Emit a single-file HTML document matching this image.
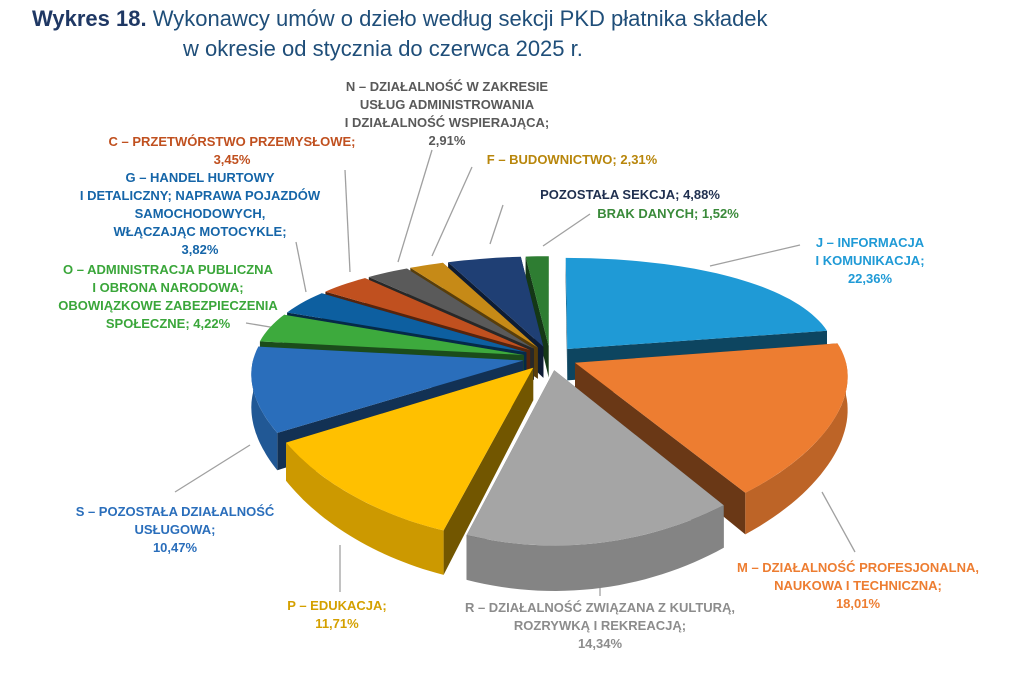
<!DOCTYPE html>
<html><head><meta charset="utf-8">
<style>
body{margin:0;width:1024px;height:678px;background:#fff;overflow:hidden;font-family:"Liberation Sans",sans-serif;}
#wrap{position:relative;width:1024px;height:678px;}
.t{position:absolute;font-size:22px;color:#1f4e79;white-space:nowrap;}
.l{position:absolute;font-size:13px;font-weight:bold;line-height:18px;text-align:center;white-space:nowrap;transform:translateX(-50%);}
svg{position:absolute;left:0;top:0;}
</style></head><body><div id="wrap">
<svg id="s" width="1024" height="678"></svg>
<div class="t" style="left:32px;top:6px;"><b style="color:#1f3864">Wykres 18.</b> Wykonawcy umów o dzieło według sekcji PKD płatnika składek</div>
<div class="t" style="left:183px;top:36px;">w okresie od stycznia do czerwca 2025 r.</div>

<div class="l" style="left:447px;top:78px;color:#595959">N – DZIAŁALNOŚĆ W ZAKRESIE<br>USŁUG ADMINISTROWANIA<br>I DZIAŁALNOŚĆ WSPIERAJĄCA;<br>2,91%</div>
<div class="l" style="left:232px;top:133px;color:#c0501f">C – PRZETWÓRSTWO PRZEMYSŁOWE;<br>3,45%</div>
<div class="l" style="left:572px;top:151px;color:#b8860b">F – BUDOWNICTWO; 2,31%</div>
<div class="l" style="left:200px;top:169px;color:#1565a8">G – HANDEL HURTOWY<br>I DETALICZNY; NAPRAWA POJAZDÓW<br>SAMOCHODOWYCH,<br>WŁĄCZAJĄC MOTOCYKLE;<br>3,82%</div>
<div class="l" style="left:630px;top:186px;color:#1f2f4f">POZOSTAŁA SEKCJA; 4,88%</div>
<div class="l" style="left:668px;top:205px;color:#3a8a3a">BRAK DANYCH; 1,52%</div>
<div class="l" style="left:168px;top:261px;color:#3aa63a">O – ADMINISTRACJA PUBLICZNA<br>I OBRONA NARODOWA;<br>OBOWIĄZKOWE ZABEZPIECZENIA<br>SPOŁECZNE; 4,22%</div>
<div class="l" style="left:870px;top:234px;color:#1f9ad6">J – INFORMACJA<br>I KOMUNIKACJA;<br>22,36%</div>
<div class="l" style="left:175px;top:503px;color:#2a6ebb">S – POZOSTAŁA DZIAŁALNOŚĆ<br>USŁUGOWA;<br>10,47%</div>
<div class="l" style="left:858px;top:559px;color:#ed7d31">M – DZIAŁALNOŚĆ PROFESJONALNA,<br>NAUKOWA I TECHNICZNA;<br>18,01%</div>
<div class="l" style="left:337px;top:597px;color:#d4a000">P – EDUKACJA;<br>11,71%</div>
<div class="l" style="left:600px;top:599px;color:#8c8c8c">R – DZIAŁALNOŚĆ ZWIĄZANA Z KULTURĄ,<br>ROZRYWKĄ I REKREACJĄ;<br>14,34%</div>
</div>
<script>
var data=[[22.36,'#1f9ad6'],[18.01,'#ed7d31'],[14.34,'#a5a5a5'],[11.71,'#ffc000'],[10.47,'#2a6ebb'],[4.22,'#3daa3d'],[3.82,'#0d5fa0'],[3.45,'#c0501f'],[2.91,'#5a5a5a'],[2.31,'#c68a17'],[4.88,'#1f3f74'],[1.52,'#2e7d32']];
var cx=550,cy=358,rx=270,ry=120,E=0.1,D=32,K=0.27,KX=0.1,svg=document.getElementById('s');
var NS='http://www.w3.org/2000/svg';
function el(t,a){var e=document.createElementNS(NS,t);for(var k in a)e.setAttribute(k,a[k]);svg.appendChild(e);return e;}
function dark(c,f){var n=parseInt(c.slice(1),16);var r=(n>>16)*f|0,g=((n>>8)&255)*f|0,b=(n&255)*f|0;return 'rgb('+r+','+g+','+b+')';}
var lines=[[800,245,710,266],[432,150,398,262],[472,167,432,256],[345,170,350,272],[296,242,306,292],[246,323,276,328],[503,205,490,244],[590,214,543,246],[175,492,250,445],[340,592,340,545],[600,596,600,578],[855,552,822,492]];
lines.forEach(function(l){el('line',{x1:l[0],y1:l[1],x2:l[2],y2:l[3],stroke:'#a0a0a0','stroke-width':1.3});});
var a0=0,sl=[];
data.forEach(function(d){var a1=a0+d[0]*3.6;var m=(a0+a1)/2*Math.PI/180;sl.push({a:a0,b:a1,c:d[1],ox:E*Math.sin(m),ov:-E*Math.cos(m),m:m});a0=a1;});
function proj(X,V,dz){var s=1/(1-K*V),sx=1/(1-KX*V);return [cx+rx*X*sx,cy+ry*V*s+dz*s];}
function P(s,deg,dz){var t=deg*Math.PI/180;return proj(Math.sin(t)+s.ox,-Math.cos(t)+s.ov,dz);}
function Cn(s,dz){return proj(s.ox,s.ov,dz);}
function pts(a){return a.map(function(p){return p[0].toFixed(1)+','+p[1].toFixed(1);}).join(' ');}
var order=sl.slice().sort(function(x,y){return -Math.cos(x.m)-(-Math.cos(y.m));});
order.forEach(function(s){
 var C=Cn(s,0),Cb=Cn(s,D);
 [s.a,s.b].forEach(function(ang){
  el('polygon',{points:pts([C,P(s,ang,0),P(s,ang,D),Cb]),fill:dark(s.c,0.45)});});
 var lo=Math.max(s.a,90),hi=Math.min(s.b,270);
 if(hi>lo){var top=[],bot=[];for(var i=0;i<=30;i++){var t=lo+(hi-lo)*i/30;top.push(P(s,t,0));bot.unshift(P(s,t,D));}
  el('polygon',{points:pts(top.concat(bot)),fill:dark(s.c,0.8)});}
});
sl.forEach(function(s){var arr=[Cn(s,0)];var n=Math.max(4,Math.ceil((s.b-s.a)/2));
 for(var i=0;i<=n;i++)arr.push(P(s,s.a+(s.b-s.a)*i/n,0));
 el('polygon',{points:pts(arr),fill:s.c});});
</script>
</body></html>
